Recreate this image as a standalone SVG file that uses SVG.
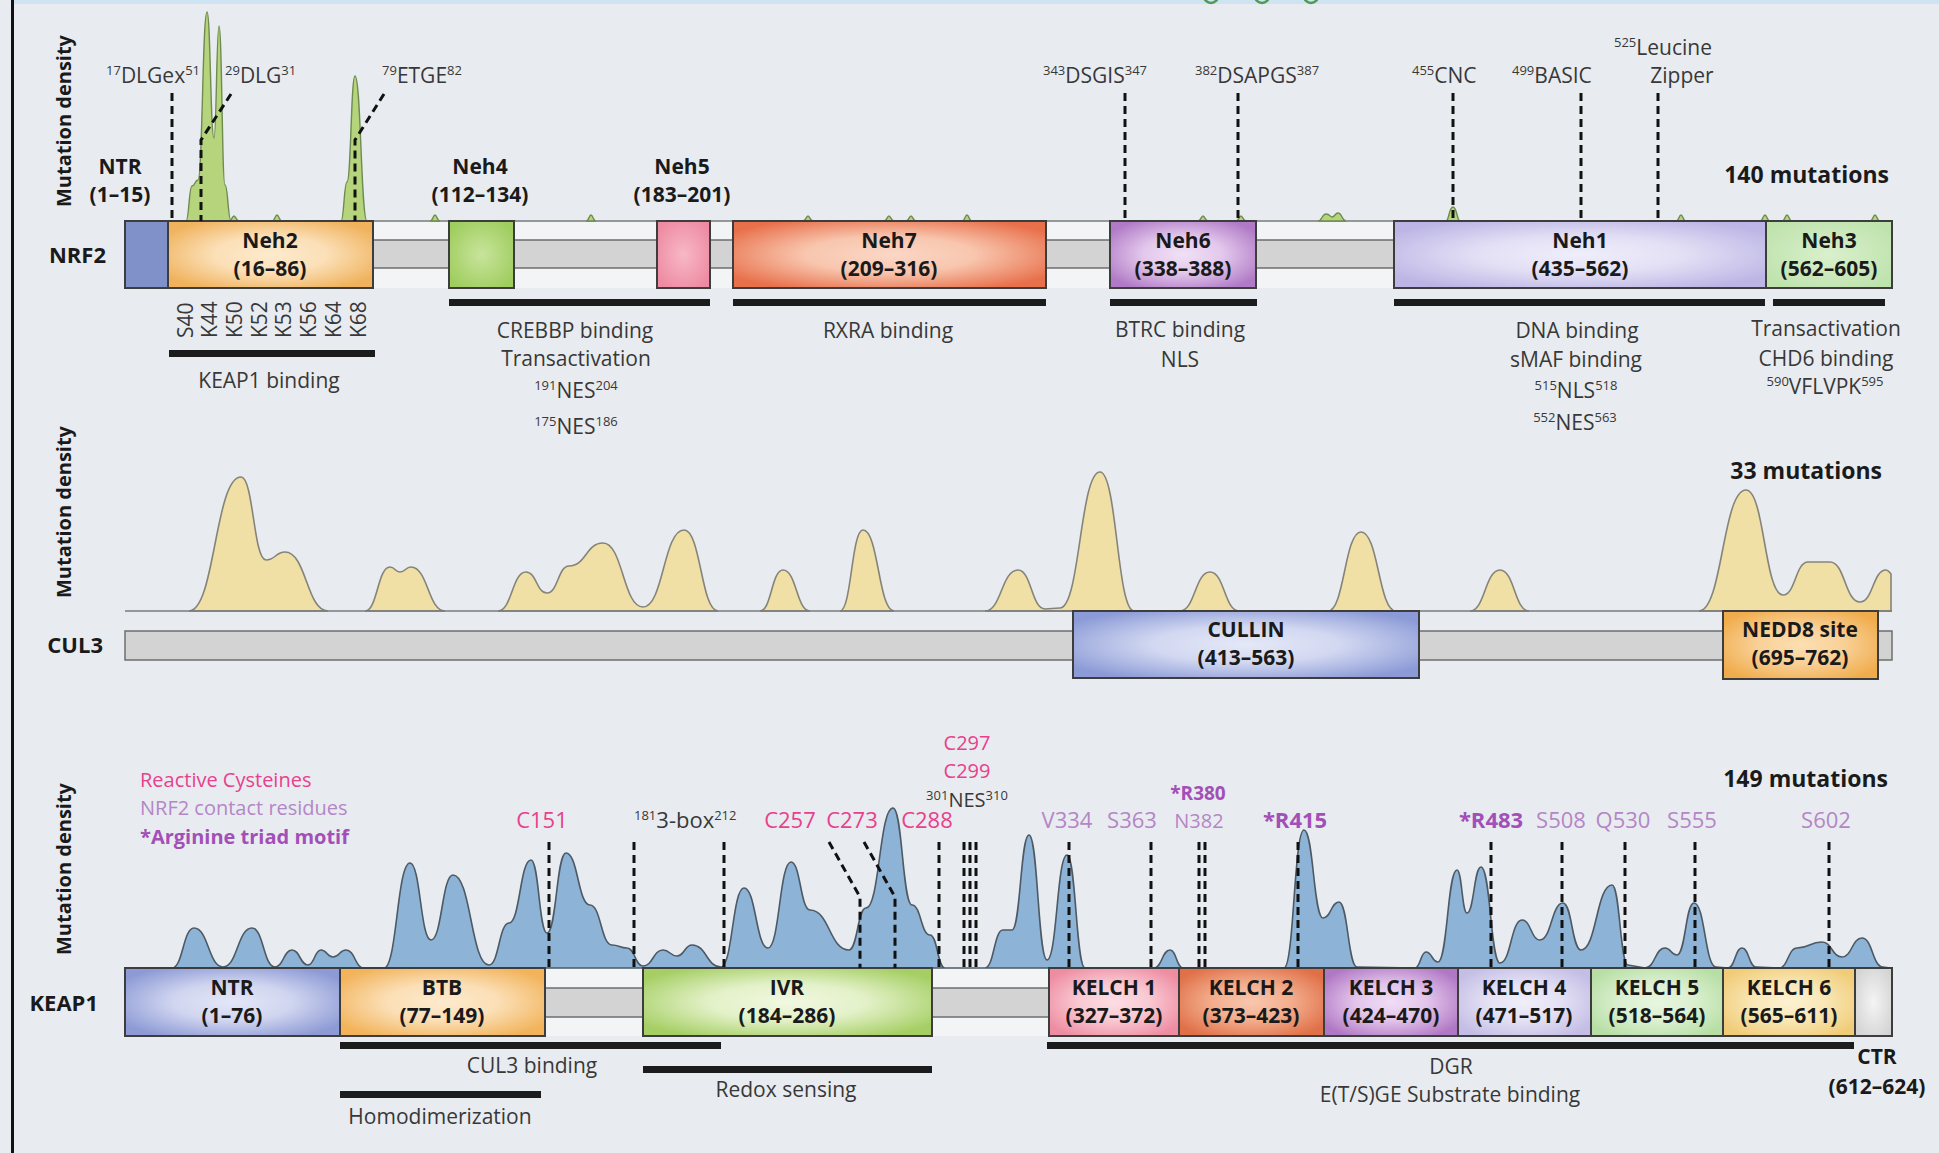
<svg xmlns="http://www.w3.org/2000/svg" width="1939" height="1153" viewBox="0 0 1939 1153">
<defs>
<style>
text{font-family:"Open Sans","Liberation Sans",sans-serif;font-size:21px;fill:#383838}
.b{font-weight:700;fill:#1a1a1a}
.c{text-anchor:middle}
.e{text-anchor:end}
.sup{font-size:13px}
.box{stroke:#3d3d3d;stroke-width:2}
.dash{stroke:#111;stroke-width:3;stroke-dasharray:8 5;fill:none}
.bar{fill:#1c1c1c}
.gbar{fill:#d3d3d3;stroke:#6e6e6e;stroke-width:1.5}
.lite{fill:#f3f4f6}
.base{stroke:#7a7a7a;stroke-width:1.5}
.pink{fill:#e8408c}
.pur{fill:#b486c6}
.pb{fill:#a24fb8;font-weight:700}
.k{font-size:22px}
.s{font-size:20px}
.md{font-size:20px;font-weight:700;fill:#1a1a1a}
.rg{fill:#8db3d6;stroke:#4d5964;stroke-width:1.6}
.yl{fill:#f0e0a6;stroke:#85847a;stroke-width:1.6}
.gr{fill:#b5d47c;stroke:#6e8c50;stroke-width:1.4}
</style>
<radialGradient id="gNeh2" r="0.6"><stop offset="0" stop-color="#fdeacd"/><stop offset="0.45" stop-color="#fbe0b8"/><stop offset="1" stop-color="#f0b25c"/></radialGradient>
<radialGradient id="gNeh4" r="0.6"><stop offset="0" stop-color="#c8e49c"/><stop offset="1" stop-color="#9fcd5e"/></radialGradient>
<radialGradient id="gNeh5" r="0.6"><stop offset="0" stop-color="#f7b8c6"/><stop offset="1" stop-color="#ee8aa2"/></radialGradient>
<radialGradient id="gNeh7" r="0.6"><stop offset="0" stop-color="#fbd7c6"/><stop offset="0.45" stop-color="#f8c6ae"/><stop offset="1" stop-color="#e8704b"/></radialGradient>
<radialGradient id="gNeh6" r="0.6"><stop offset="0" stop-color="#f0e1f6"/><stop offset="0.45" stop-color="#e3c8ec"/><stop offset="1" stop-color="#b07ac6"/></radialGradient>
<radialGradient id="gNeh1" r="0.6"><stop offset="0" stop-color="#efeefa"/><stop offset="0.45" stop-color="#e3e0f5"/><stop offset="1" stop-color="#bcb5e5"/></radialGradient>
<radialGradient id="gNeh3" r="0.6"><stop offset="0" stop-color="#d9f0cd"/><stop offset="1" stop-color="#bfe3ad"/></radialGradient>
<radialGradient id="gCul" r="0.6"><stop offset="0" stop-color="#e4e8f7"/><stop offset="0.45" stop-color="#d2d8f1"/><stop offset="1" stop-color="#8c9bd7"/></radialGradient>
<radialGradient id="gNedd" r="0.6"><stop offset="0" stop-color="#fcdfb2"/><stop offset="0.45" stop-color="#f9d198"/><stop offset="1" stop-color="#f0ac4c"/></radialGradient>
<radialGradient id="gKntr" r="0.6"><stop offset="0" stop-color="#e3e7f7"/><stop offset="0.45" stop-color="#d1d6f0"/><stop offset="1" stop-color="#8d9ad5"/></radialGradient>
<radialGradient id="gBtb" r="0.6"><stop offset="0" stop-color="#fdeacd"/><stop offset="0.45" stop-color="#fbdfb6"/><stop offset="1" stop-color="#f2b35a"/></radialGradient>
<radialGradient id="gIvr" r="0.6"><stop offset="0" stop-color="#f1f8e1"/><stop offset="0.45" stop-color="#e3f1c8"/><stop offset="1" stop-color="#a5cf64"/></radialGradient>
<radialGradient id="gK1" r="0.6"><stop offset="0" stop-color="#fcdde3"/><stop offset="0.45" stop-color="#f9c9d2"/><stop offset="1" stop-color="#ee8ca2"/></radialGradient>
<radialGradient id="gK2" r="0.6"><stop offset="0" stop-color="#f8c7ae"/><stop offset="0.45" stop-color="#f3ae8e"/><stop offset="1" stop-color="#e07048"/></radialGradient>
<radialGradient id="gK3" r="0.6"><stop offset="0" stop-color="#f0ddf5"/><stop offset="0.45" stop-color="#e2c4eb"/><stop offset="1" stop-color="#b077c4"/></radialGradient>
<radialGradient id="gK4" r="0.6"><stop offset="0" stop-color="#efeef9"/><stop offset="0.45" stop-color="#e4e1f4"/><stop offset="1" stop-color="#c4bde5"/></radialGradient>
<radialGradient id="gK5" r="0.6"><stop offset="0" stop-color="#e8f6e0"/><stop offset="0.45" stop-color="#dcf0d1"/><stop offset="1" stop-color="#b7dfa5"/></radialGradient>
<radialGradient id="gK6" r="0.6"><stop offset="0" stop-color="#fcf1d2"/><stop offset="0.45" stop-color="#f9e7b6"/><stop offset="1" stop-color="#f0cc78"/></radialGradient>
<radialGradient id="gCtr" r="0.6"><stop offset="0" stop-color="#f4f4f4"/><stop offset="1" stop-color="#d4d4d4"/></radialGradient>
</defs>

<rect x="0" y="0" width="1939" height="1153" fill="#e8ecf0"/>
<rect x="14" y="0" width="1925" height="4" fill="#cfe4f3"/>
<rect x="11" y="0" width="3" height="1153" fill="#111"/>
<g fill="none" stroke="#4f9a55" stroke-width="2.5">
<circle cx="1211" cy="-4" r="7"/><circle cx="1262" cy="-4" r="7"/><circle cx="1311" cy="-4" r="7"/>
</g>

<!-- axis labels -->
<g id="axis-labels">
<text class="md c" transform="translate(71,121) rotate(-90)">Mutation density</text>
<text class="md c" transform="translate(71,512) rotate(-90)">Mutation density</text>
<text class="md c" transform="translate(71,869) rotate(-90)">Mutation density</text>
<text class="b e" x="1889" y="183" style="font-size:23px">140 mutations</text>
<text class="b e" x="1882" y="479" style="font-size:23px">33 mutations</text>
<text class="b e" x="1888" y="787" style="font-size:23px">149 mutations</text>
</g>

<!-- ================= NRF2 ================= -->
<g id="nrf2">
<text class="b e" x="106" y="263" style="font-size:22px">NRF2</text>
<rect class="lite" x="125" y="221" width="1767" height="67"/>
<rect class="gbar" x="125" y="240" width="1767" height="28"/>
<line class="base" x1="125" y1="221" x2="1892" y2="221"/>
<g id="nrf2-density">
<path class="gr" d="M186 221 C189 221 189 186 192 186 C195 186 195 180 198 180 C202.5 180 202.5 12 207 12 C210.5 12 210.5 138 214 138 C216.5 138 216.5 26 219 26 C222 26 222 185 225 185 C228 185 228 221 231 221 Z"/>
<path class="gr" d="M341 221 C344 221 344 182 347 182 C351 182 351 76 355 76 C361 76 361 221 367 221 Z"/>
<path class="gr" d="M229 221 C232 221 232 216 234 216 C236 216 236 221 239 221 Z M272 221 C275 221 275 215 277 215 C279 215 279 221 282 221 Z M430 221 C433 221 433 215 435 215 C437 215 437 221 440 221 Z M586 221 C589 221 589 215 591 215 C593 215 593 221 596 221 Z M803 221 C806 221 806 216 808 216 C810 216 810 221 813 221 Z M884 221 C887 221 887 216 889 216 C891 216 891 221 894 221 Z M906 221 C909 221 909 216 911 216 C913 216 913 221 916 221 Z M962 221 C965 221 965 215 967 215 C969 215 969 221 972 221 Z M1198 221 C1201 221 1201 216 1203 216 C1205 216 1205 221 1208 221 Z M1236 221 C1239 221 1239 216 1241 216 C1243 216 1243 221 1246 221 Z M1318 221 C1322 221 1322 214 1326 214 C1330 214 1330 217 1332 217 C1335 217 1335 213 1338 213 C1342 213 1342 221 1346 221 Z M1446 221 C1449 221 1449 207 1453 207 C1457 207 1457 221 1460 221 Z M1676 221 C1679 221 1679 215 1681 215 C1683 215 1683 221 1686 221 Z M1760 221 C1763 221 1763 215 1765 215 C1767 215 1767 221 1770 221 Z M1782 221 C1785 221 1785 215 1787 215 C1789 215 1789 221 1792 221 Z M1870 221 C1873 221 1873 215 1875 215 C1877 215 1877 221 1880 221 Z"/>
</g>
<g id="nrf2-ntr"><rect class="box" x="125" y="221" width="43" height="67" fill="#8091c9"/>
<text class="b c" x="120" y="174">NTR</text><text class="b c" x="120" y="202">(1–15)</text></g>
<g id="nrf2-neh2"><rect class="box" x="168" y="221" width="205" height="67" fill="url(#gNeh2)"/>
<text class="b c" x="270" y="248">Neh2</text><text class="b c" x="270" y="276">(16–86)</text></g>
<g id="nrf2-neh4"><rect class="box" x="449" y="221" width="65" height="67" fill="url(#gNeh4)"/>
<text class="b c" x="480" y="174">Neh4</text><text class="b c" x="480" y="202">(112–134)</text></g>
<g id="nrf2-neh5"><rect class="box" x="657" y="221" width="53" height="67" fill="url(#gNeh5)"/>
<text class="b c" x="682" y="174">Neh5</text><text class="b c" x="682" y="202">(183–201)</text></g>
<g id="nrf2-neh7"><rect class="box" x="733" y="221" width="313" height="67" fill="url(#gNeh7)"/>
<text class="b c" x="889" y="248">Neh7</text><text class="b c" x="889" y="276">(209–316)</text></g>
<g id="nrf2-neh6"><rect class="box" x="1110" y="221" width="146" height="67" fill="url(#gNeh6)"/>
<text class="b c" x="1183" y="248">Neh6</text><text class="b c" x="1183" y="276">(338–388)</text></g>
<g id="nrf2-neh1"><rect class="box" x="1394" y="221" width="372" height="67" fill="url(#gNeh1)"/>
<text class="b c" x="1580" y="248">Neh1</text><text class="b c" x="1580" y="276">(435–562)</text></g>
<g id="nrf2-neh3"><rect class="box" x="1766" y="221" width="126" height="67" fill="url(#gNeh3)"/>
<text class="b c" x="1829" y="248">Neh3</text><text class="b c" x="1829" y="276">(562–605)</text></g>

<g id="nrf2-residues">
<text transform="translate(193,338) rotate(-90)">S40</text>
<text transform="translate(217,338) rotate(-90)">K44</text>
<text transform="translate(242,338) rotate(-90)">K50</text>
<text transform="translate(267,338) rotate(-90)">K52</text>
<text transform="translate(291,338) rotate(-90)">K53</text>
<text transform="translate(316,338) rotate(-90)">K56</text>
<text transform="translate(341,338) rotate(-90)">K64</text>
<text transform="translate(366,338) rotate(-90)">K68</text>
</g>
<g id="nrf2-motifs">
<text x="106" y="83"><tspan class="sup" dy="-8">17</tspan><tspan dy="8">DLGex</tspan><tspan class="sup" dy="-8">51</tspan></text>
<text x="225" y="83"><tspan class="sup" dy="-8">29</tspan><tspan dy="8">DLG</tspan><tspan class="sup" dy="-8">31</tspan></text>
<text x="382" y="83"><tspan class="sup" dy="-8">79</tspan><tspan dy="8">ETGE</tspan><tspan class="sup" dy="-8">82</tspan></text>
<text x="1043" y="83"><tspan class="sup" dy="-8">343</tspan><tspan dy="8">DSGIS</tspan><tspan class="sup" dy="-8">347</tspan></text>
<text x="1195" y="83"><tspan class="sup" dy="-8">382</tspan><tspan dy="8">DSAPGS</tspan><tspan class="sup" dy="-8">387</tspan></text>
<text x="1412" y="83"><tspan class="sup" dy="-8">455</tspan><tspan dy="8">CNC</tspan></text>
<text x="1512" y="83"><tspan class="sup" dy="-8">499</tspan><tspan dy="8">BASIC</tspan></text>
<text x="1614" y="55"><tspan class="sup" dy="-8">525</tspan><tspan dy="8">Leucine</tspan></text>
<text class="c" x="1682" y="83">Zipper</text>
</g>
<g id="nrf2-functions">
<text class="c" x="269" y="388">KEAP1 binding</text>
<text class="c" x="575" y="338">CREBBP binding</text>
<text class="c" x="576" y="366">Transactivation</text>
<text class="c" x="576" y="398"><tspan class="sup" dy="-8">191</tspan><tspan dy="8">NES</tspan><tspan class="sup" dy="-8">204</tspan></text>
<text class="c" x="576" y="434"><tspan class="sup" dy="-8">175</tspan><tspan dy="8">NES</tspan><tspan class="sup" dy="-8">186</tspan></text>
<text class="c" x="888" y="338">RXRA binding</text>
<text class="c" x="1180" y="337">BTRC binding</text>
<text class="c" x="1180" y="367">NLS</text>
<text class="c" x="1577" y="338">DNA binding</text>
<text class="c" x="1576" y="367">sMAF binding</text>
<text class="c" x="1576" y="398"><tspan class="sup" dy="-8">515</tspan><tspan dy="8">NLS</tspan><tspan class="sup" dy="-8">518</tspan></text>
<text class="c" x="1575" y="430"><tspan class="sup" dy="-8">552</tspan><tspan dy="8">NES</tspan><tspan class="sup" dy="-8">563</tspan></text>
<text class="c" x="1826" y="336">Transactivation</text>
<text class="c" x="1826" y="366">CHD6 binding</text>
<text class="c" x="1825" y="394"><tspan class="sup" dy="-8">590</tspan><tspan dy="8">VFLVPK</tspan><tspan class="sup" dy="-8">595</tspan></text>
</g>
</g>

<!-- ================= CUL3 ================= -->
<g id="cul3">
<text class="b e" x="103" y="653" style="font-size:22px">CUL3</text>
<g id="cul3-density">
<path class="yl" d="M189 611 C215 611 215 477 241 477 C253.5 477 253.5 560 266 560 C275.5 560 275.5 552 285 552 C306.5 552 306.5 611 328 611 Z"/>
<path class="yl" d="M365 611 C377.5 611 377.5 567 390 567 C395 567 395 572 400 572 C405.5 572 405.5 567 411 567 C428 567 428 611 445 611 Z"/>
<path class="yl" d="M498 611 C512 611 512 572 526 572 C536.5 572 536.5 593 547 593 C558 593 558 566 569 566 C586 566 586 543 603 543 C623 543 623 607 643 607 C663.5 607 663.5 530 684 530 C701 530 701 611 718 611 Z"/>
<path class="yl" d="M760 611 C771.5 611 771.5 570 783 570 C796.5 570 796.5 611 810 611 Z"/>
<path class="yl" d="M840 611 C851.5 611 851.5 530 863 530 C878.5 530 878.5 611 894 611 Z"/>
<path class="yl" d="M985 611 C1001.5 611 1001.5 570 1018 570 C1031.5 570 1031.5 609 1045 609 C1052 609 1052 608 1060 608 C1080 608 1080 472 1100 472 C1117 472 1117 611 1134 611 Z"/>
<path class="yl" d="M1180 611 C1195 611 1195 572 1210 572 C1224.5 572 1224.5 611 1239 611 Z"/>
<path class="yl" d="M1328 611 C1344.5 611 1344.5 532 1361 532 C1378.5 532 1378.5 611 1396 611 Z"/>
<path class="yl" d="M1470 611 C1485 611 1485 570 1500 570 C1514.5 570 1514.5 611 1529 611 Z"/>
<path class="yl" d="M1699 611 C1722.5 611 1722.5 490 1746 490 C1764.5 490 1764.5 595 1783 595 C1795.5 595 1795.5 562 1808 562 C1819 562 1819 562 1830 562 C1845 562 1845 602 1860 602 C1873 602 1873 570 1886 570 C1888.5 570 1889 572 1891 574 L1891 611 Z"/>
</g>
<line class="base" x1="125" y1="611" x2="1892" y2="611"/>
<rect class="gbar" x="125" y="631" width="1767" height="29"/>
<g id="cul3-cullin"><rect class="box" x="1073" y="611" width="346" height="67" fill="url(#gCul)"/>
<text class="b c" x="1246" y="637">CULLIN</text><text class="b c" x="1246" y="665">(413–563)</text></g>
<g id="cul3-nedd8"><rect class="box" x="1723" y="611" width="155" height="68" fill="url(#gNedd)"/>
<text class="b c" x="1800" y="637">NEDD8 site</text><text class="b c" x="1800" y="665">(695–762)</text></g>
</g>

<!-- ================= KEAP1 ================= -->
<g id="keap1">
<text class="b e" x="98" y="1011" style="font-size:22px">KEAP1</text>
<g id="keap1-legend">
<text class="pink" x="140" y="787" style="font-size:20px">Reactive Cysteines</text>
<text class="pur" x="140" y="815" style="font-size:20px">NRF2 contact residues</text>
<text class="pb" x="140" y="844" style="font-size:20px">*Arginine triad motif</text>
</g>
<rect class="lite" x="125" y="968" width="1767" height="68"/>
<rect class="gbar" x="125" y="988" width="1767" height="29"/>
<g id="keap1-density">
<path class="rg" d="M172 968 C183 968 183 928 194 928 C208.5 928 208.5 967 223 967 C237.5 967 237.5 928 252 928 C263.5 928 263.5 967 275 967 C283.5 967 283.5 950 292 950 C300 950 300 965 308 965 C314.5 965 314.5 950 321 950 C327 950 327 957 333 957 C339.5 957 339.5 950 346 950 C355 950 355 968 364 968 L384 968 C397 968 397 863 410 863 C420.5 863 420.5 940 431 940 C442 940 442 875 453 875 C471 875 471 965 489 965 C499 965 499 923 509 923 C520 923 520 860 531 860 C539 860 539 933 547 933 C556.5 933 556.5 853 566 853 C578 853 578 905 590 905 C601 905 601 945 612 945 C619.5 945 619.5 948 627 948 C635 948 635 966 643 966 C653 966 653 950 663 950 C670 950 670 956 677 956 C684.5 956 684.5 945 692 945 C706.5 945 706.5 967 721 967 C732.5 967 732.5 888 744 888 C756 888 756 948 768 948 C779.5 948 779.5 862 791 862 C800.5 862 800.5 910 810 910 C829.5 910 829.5 950 849 950 C857.5 950 857.5 908 866 908 C879.5 908 879.5 808 893 808 C902.5 808 902.5 905 912 905 C921 905 921 935 930 935 C937.5 935 937.5 968 945 968 L985 968 C994 968 994 930 1003 930 L1012 930 C1020.5 930 1020.5 835 1029 835 C1038 835 1038 960 1047 960 C1057 960 1057 855 1067 855 C1076 855 1076 968 1085 968 L1154 968 C1162 968 1162 950 1170 950 C1176.5 950 1176.5 968 1183 968 L1284 968 C1294 968 1294 830 1304 830 C1313.5 830 1313.5 918 1323 918 C1331 918 1331 902 1339 902 C1348 902 1348 967 1357 967 L1415 968 C1420.5 968 1420.5 952 1426 952 C1432 952 1432 962 1438 962 C1447.5 962 1447.5 870 1457 870 C1462 870 1462 913 1467 913 C1474 913 1474 867 1481 867 C1490.5 867 1490.5 963 1500 963 C1511 963 1511 920 1522 920 C1531 920 1531 940 1540 940 C1551.5 940 1551.5 903 1563 903 C1572 903 1572 950 1581 950 C1596.5 950 1596.5 885 1612 885 C1620 885 1620 965 1628 965 L1645 968 C1655 968 1655 948 1665 948 C1671 948 1671 955 1677 955 C1685.5 955 1685.5 903 1694 903 C1705 903 1705 967 1716 967 L1728 968 C1735 968 1735 948 1742 948 C1749 948 1749 967 1756 967 L1779 968 C1788 968 1788 948 1797 948 C1809.5 948 1809.5 942 1822 942 C1832 942 1832 957 1842 957 C1852 957 1852 938 1862 938 C1872.5 938 1872.5 967 1883 967 L1890 968 Z"/>
</g>
<g id="keap1-ntr"><rect class="box" x="125" y="968" width="215" height="68" fill="url(#gKntr)"/>
<text class="b c" x="232" y="995">NTR</text><text class="b c" x="232" y="1023">(1–76)</text></g>
<g id="keap1-btb"><rect class="box" x="340" y="968" width="205" height="68" fill="url(#gBtb)"/>
<text class="b c" x="442" y="995">BTB</text><text class="b c" x="442" y="1023">(77–149)</text></g>
<g id="keap1-ivr"><rect class="box" x="643" y="968" width="289" height="68" fill="url(#gIvr)"/>
<text class="b c" x="787" y="995">IVR</text><text class="b c" x="787" y="1023">(184–286)</text></g>
<g id="keap1-kelch1"><rect class="box" x="1049" y="968" width="130" height="68" fill="url(#gK1)"/>
<text class="b c" x="1114" y="995">KELCH 1</text><text class="b c" x="1114" y="1023">(327–372)</text></g>
<g id="keap1-kelch2"><rect class="box" x="1179" y="968" width="145" height="68" fill="url(#gK2)"/>
<text class="b c" x="1251" y="995">KELCH 2</text><text class="b c" x="1251" y="1023">(373–423)</text></g>
<g id="keap1-kelch3"><rect class="box" x="1324" y="968" width="134" height="68" fill="url(#gK3)"/>
<text class="b c" x="1391" y="995">KELCH 3</text><text class="b c" x="1391" y="1023">(424–470)</text></g>
<g id="keap1-kelch4"><rect class="box" x="1458" y="968" width="133" height="68" fill="url(#gK4)"/>
<text class="b c" x="1524" y="995">KELCH 4</text><text class="b c" x="1524" y="1023">(471–517)</text></g>
<g id="keap1-kelch5"><rect class="box" x="1591" y="968" width="132" height="68" fill="url(#gK5)"/>
<text class="b c" x="1657" y="995">KELCH 5</text><text class="b c" x="1657" y="1023">(518–564)</text></g>
<g id="keap1-kelch6"><rect class="box" x="1723" y="968" width="132" height="68" fill="url(#gK6)"/>
<text class="b c" x="1789" y="995">KELCH 6</text><text class="b c" x="1789" y="1023">(565–611)</text></g>
<g id="keap1-ctr"><rect class="box" x="1855" y="968" width="37" height="68" fill="url(#gCtr)"/>
<text class="b c" x="1877" y="1064">CTR</text><text class="b c" x="1877" y="1094">(612–624)</text></g>

<g id="keap1-sites">
<text class="pink c k" x="542" y="828">C151</text>
<text class="k" x="634" y="828"><tspan class="sup" dy="-8">181</tspan><tspan dy="8">3-box</tspan><tspan class="sup" dy="-8">212</tspan></text>
<text class="pink c k" x="790" y="828">C257</text>
<text class="pink c k" x="852" y="828">C273</text>
<text class="pink c k" x="927" y="828">C288</text>
<text class="pink c s" x="967" y="750">C297</text>
<text class="pink c s" x="967" y="778">C299</text>
<text class="c s" x="967" y="807"><tspan class="sup" dy="-7">301</tspan><tspan dy="7">NES</tspan><tspan class="sup" dy="-7">310</tspan></text>
<text class="pur c k" x="1067" y="828">V334</text>
<text class="pur c k" x="1132" y="828">S363</text>
<text class="pb c" x="1198" y="800" style="font-size:19px">*R380</text>
<text class="pur c s" x="1199" y="828">N382</text>
<text class="pb c k" x="1295" y="828">*R415</text>
<text class="pb c k" x="1491" y="828">*R483</text>
<text class="pur c k" x="1561" y="828">S508</text>
<text class="pur c k" x="1623" y="828">Q530</text>
<text class="pur c k" x="1692" y="828">S555</text>
<text class="pur c k" x="1826" y="828">S602</text>
</g>
<g id="keap1-functions">
<text class="c" x="532" y="1073">CUL3 binding</text>
<text class="c" x="440" y="1124">Homodimerization</text>
<text class="c" x="786" y="1097">Redox sensing</text>
<text class="c" x="1451" y="1074">DGR</text>
<text class="c" x="1450" y="1102">E(T/S)GE Substrate binding</text>
</g>
</g>

<!-- ================= connectors ================= -->
<g id="connectors">
<g id="function-bars">
<rect class="bar" x="169" y="350" width="206" height="7"/>
<rect class="bar" x="449" y="299" width="261" height="7"/>
<rect class="bar" x="733" y="299" width="313" height="7"/>
<rect class="bar" x="1110" y="299" width="147" height="7"/>
<rect class="bar" x="1394" y="299" width="371" height="7"/>
<rect class="bar" x="1773" y="299" width="112" height="7"/>
<rect class="bar" x="340" y="1042" width="381" height="7"/>
<rect class="bar" x="340" y="1091" width="201" height="7"/>
<rect class="bar" x="643" y="1066" width="289" height="7"/>
<rect class="bar" x="1047" y="1042" width="807" height="7"/>
</g>
<g id="site-lines">
<path class="dash" d="M172 93 V221"/>
<path class="dash" d="M231 94 L201 140 V221"/>
<path class="dash" d="M384 94 L355 140 V221"/>
<path class="dash" d="M1125 93 V221"/>
<path class="dash" d="M1238 93 V221"/>
<path class="dash" d="M1453 93 V221"/>
<path class="dash" d="M1581 93 V221"/>
<path class="dash" d="M1658 93 V221"/>
<path class="dash" d="M549 842 V968"/>
<path class="dash" d="M634 842 V968"/>
<path class="dash" d="M724 842 V968"/>
<path class="dash" d="M829 842 L860 897 V968"/>
<path class="dash" d="M864 842 L895 897 V968"/>
<path class="dash" d="M939 842 V968"/>
<path class="dash" d="M964 842 V968"/>
<path class="dash" d="M970 842 V968"/>
<path class="dash" d="M976 842 V968"/>
<path class="dash" d="M1069 842 V968"/>
<path class="dash" d="M1151 842 V968"/>
<path class="dash" d="M1199 842 V968"/>
<path class="dash" d="M1205 842 V968"/>
<path class="dash" d="M1298 842 V968"/>
<path class="dash" d="M1491 842 V968"/>
<path class="dash" d="M1562 842 V968"/>
<path class="dash" d="M1625 842 V968"/>
<path class="dash" d="M1695 842 V968"/>
<path class="dash" d="M1829 842 V968"/>
</g>
</g>
</svg>
